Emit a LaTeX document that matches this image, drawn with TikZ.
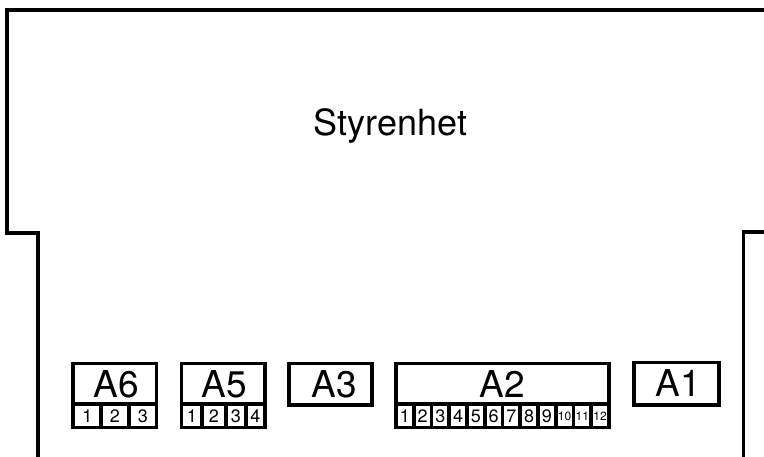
\documentclass[tikz,border=0pt]{standalone}
\usepackage{fontspec}
\setmainfont{TeX Gyre Heros}
\tikzset{
  wall/.style={line width=3.9pt,line cap=butt,line join=miter},
  boxline/.style={line width=3.7pt,line join=miter},
  big/.style={inner sep=0pt,font=\fontsize{37}{37}\selectfont},
  title/.style={inner sep=0pt,font=\fontsize{36}{36}\selectfont},
  num/.style={inner sep=0pt,font=\fontsize{18}{18}\selectfont},
  tiny/.style={inner sep=0pt,font=\fontsize{12}{12}\selectfont}
}
\begin{document}
\begin{tikzpicture}[x=1pt,y=-1pt]
\useasboundingbox (0,0) rectangle (764,457);
\fill[white] (0,0) rectangle (764,457);
% enclosure
\draw[wall] (764,10) -- (7,10) -- (7,233) -- (38,233) -- (38,457);
\draw[wall] (764,232) -- (743.5,232) -- (743.5,457);
\node[title] (styr) at (390.5,126) {Styrenhet};
% A6
\draw[boxline] (73,363.5) rectangle (156.5,427.5);
\draw[boxline] (73,404) -- (156.5,404);
\draw[boxline] (100.7,404) -- (100.7,427.5);
\draw[boxline] (129.3,404) -- (129.3,427.5);
\node[big] (a6) at (116,384) {A6};
\node[num] (a61) at (87.5,416.5) {1};
\node[num] (a62) at (115,416.5) {2};
\node[num] (a63) at (143,416.5) {3};
% A5
\draw[boxline] (181.5,363.5) rectangle (265,427.5);
\draw[boxline] (181.5,404) -- (265,404);
\draw[boxline] (202,404) -- (202,427.5);
\draw[boxline] (226,404) -- (226,427.5);
\draw[boxline] (246,404) -- (246,427.5);
\node[big] (a5) at (224.5,384) {A5};
\node[num] (a51) at (192,416.5) {1};
\node[num] (a52) at (214,416.5) {2};
\node[num] (a53) at (236,416.5) {3};
\node[num] (a54) at (255.5,416.5) {4};
% A3
\draw[boxline] (289,363.5) rectangle (372,405);
\node[big] (a3) at (334,384) {A3};
% A2
\draw[boxline] (396,363.5) rectangle (609,427.5);
\draw[boxline] (396,404) -- (609,404);
\foreach \i in {1,...,11}{
  \draw[boxline] ({396+\i*17.75},404) -- ({396+\i*17.75},427.5);
}
\node[big] (a2) at (502,384) {A2};
\node[num] (b1) at (404.9,416.5) {1};
\node[num] (b2) at (422.6,416.5) {2};
\node[num] (b3) at (440.4,416.5) {3};
\node[num] (b4) at (458.1,416.5) {4};
\node[num] (b5) at (475.9,416.5) {5};
\node[num] (b6) at (493.6,416.5) {6};
\node[num] (b7) at (511.4,416.5) {7};
\node[num] (b8) at (529.1,416.5) {8};
\node[num] (b9) at (546.9,416.5) {9};
\node[tiny] (b10) at (564.6,416.5) {10};
\node[tiny] (b11) at (582.4,416.5) {11};
\node[tiny] (b12) at (600.1,416.5) {12};
% A1
\draw[boxline] (634,362.5) rectangle (719,405);
\node[big] (a1) at (678,383) {A1};
\end{tikzpicture}
\end{document}
